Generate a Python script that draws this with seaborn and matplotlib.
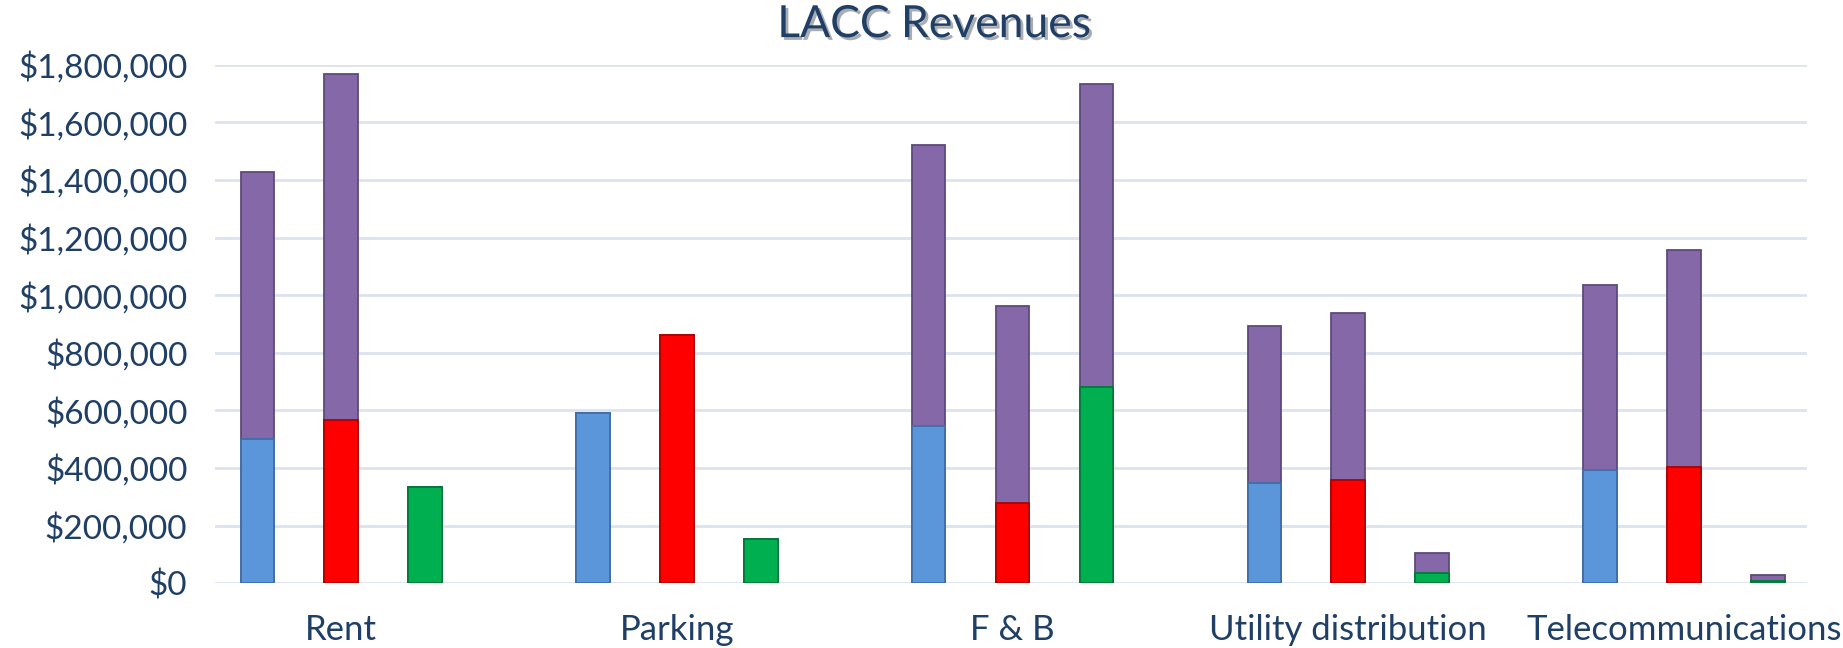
import pandas as pd
import matplotlib.pyplot as plt
import matplotlib.patheffects as pe
from matplotlib.ticker import FuncFormatter
import seaborn as sns

# Chart data
categories = ["Rent", "Parking", "F & B", "Utility distribution", "Telecommunications"]
series = ["Series 1", "Series 2", "Series 3"]
base_1 = [500000, 590000, 545000, 348000, 394000]
base_2 = [567000, 863000, 279000, 358000, 404000]
base_3 = [334000, 155000, 680000, 36000, 9000]
extra_1 = [929000, 0, 975000, 544000, 641000]
extra_2 = [1202000, 0, 685000, 580000, 752000]
extra_3 = [0, 0, 1054000, 68000, 21000]

base_colors = ["#5B96DA", "#FF0000", "#00B050"]
base_edges = ["#3F6FA8", "#B00000", "#007A38"]
purple = "#8468A8"
purple_edge = "#5E4A7C"
text_color = "#1F3F66"

# Long table for seaborn
rows = []
for s, base, extra in zip(series, [base_1, base_2, base_3], [extra_1, extra_2, extra_3]):
    for c, b, e in zip(categories, base, extra):
        rows.append({"Category": c, "Series": s, "Base": b, "Total": b + e})
df = pd.DataFrame(rows)

sns.set_style("white")
plt.rcParams["font.family"] = ["Lato", "DejaVu Sans"]

fig = plt.figure(figsize=(18.43, 6.48), dpi=100)
ax = fig.add_axes([0.1167, 0.100, 0.8638, 0.800])

# Purple tops drawn as full totals, base segments over them
sns.barplot(data=df, x="Category", y="Total", hue="Series", hue_order=series,
            palette=[purple] * 3, width=0.75, gap=0.6, saturation=1, legend=False,
            ax=ax, zorder=2)
sns.barplot(data=df, x="Category", y="Base", hue="Series", hue_order=series,
            palette=base_colors, width=0.75, gap=0.6, saturation=1, legend=False,
            ax=ax, zorder=3)

# edges: first 3 containers are the purple totals, next 3 the bases
for i, cont in enumerate(ax.containers):
    edge = purple_edge if i < 3 else base_edges[i - 3]
    for bar in cont:
        bar.set_edgecolor(edge)
        bar.set_linewidth(1.3)

ax.set_ylim(0, 1800000)
ax.set_xlim(-0.376, 4.367)
ax.set_yticks(range(0, 1800001, 200000))
ax.yaxis.set_major_formatter(FuncFormatter(lambda v, p: f"${v:,.0f}"))
ax.grid(axis="y", color="#DCE3EE", linewidth=2)
ax.set_axisbelow(True)
for sp in ax.spines.values():
    sp.set_visible(False)

ax.tick_params(axis="y", labelsize=24, labelcolor=text_color, length=0, pad=20)
ax.tick_params(axis="x", labelsize=25, labelcolor=text_color, length=0, pad=22)
ax.set_xlabel("")
ax.set_ylabel("")

fig.text(0.507, 0.962, "LACC Revenues", ha="center", va="center", fontsize=32,
         color=text_color,
         path_effects=[pe.SimplePatchShadow(offset=(2, -2), alpha=0.35), pe.Normal()])

plt.savefig("out.png", dpi=100)
